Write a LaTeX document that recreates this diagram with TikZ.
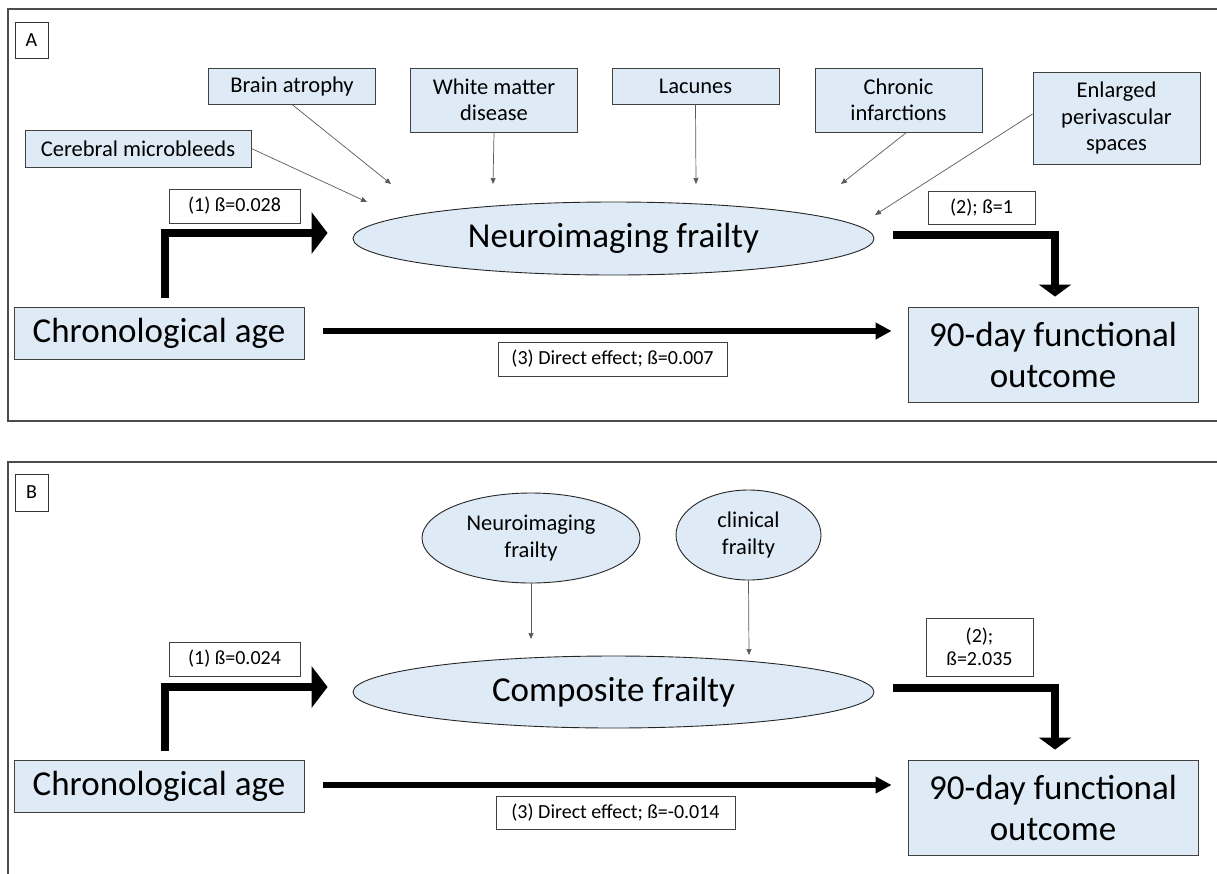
\documentclass[tikz,border=0pt]{standalone}
\usepackage{fontspec}
\setmainfont{Carlito}
\usetikzlibrary{positioning, arrows.meta, shapes.geometric}
\definecolor{boxblue}{RGB}{222,235,247}

\begin{document}
\begin{tikzpicture}[x=1pt, y=-1pt,
		panel/.style={draw=black!70, line width=1.5pt},
		tag/.style={draw=black!80, line width=0.9pt, inner sep=0pt,
			minimum width=33pt, minimum height=36pt, font=\fontsize{20}{22}\selectfont},
		factor/.style={draw=black!75, line width=0.9pt, fill=boxblue, align=center,
			inner sep=0pt, minimum width=167pt, font=\fontsize{22.5}{26.5}\selectfont},
		mainbox/.style={draw=black!75, line width=0.9pt, fill=boxblue, align=center,
			inner sep=0pt, minimum width=290pt, font=\fontsize{35}{41}\selectfont},
		latent/.style={ellipse, draw=black!85, line width=0.9pt, fill=boxblue, align=center,
			inner sep=0pt},
		coef/.style={draw=black!75, line width=0.8pt, fill=white, align=center,
			inner sep=0pt, minimum height=34pt, font=\fontsize{20}{22.7}\selectfont},
		feed/.style={draw=black!65, line width=0.7pt, -{Triangle[length=6pt, width=5pt]}},
		patha/.style={line width=7.5pt, -{Triangle[length=16pt, width=41pt]}},
		pathb/.style={line width=7.5pt, -{Triangle[length=12pt, width=32pt]}},
		pathc/.style={line width=6pt, -{Triangle[length=16pt, width=16pt]}},
		]
		\useasboundingbox (0,0) rectangle (1217,873);
		\clip (0,0) rectangle (1217,873);
		
		% Panel A
		\draw[panel] (8,9) rectangle (1300,421);
		\node[tag] (labA) at (31.5,40) {A};
		
		\node[factor, minimum width=226pt, minimum height=37pt] (cmb) at (138,148.5) {Cerebral microbleeds};
		\node[factor, minimum height=36pt] (ba) at (292,86) {Brain atrophy};
		\node[factor, minimum height=64pt] (wmd) at (494,100) {White matter\\disease};
		\node[factor, minimum height=36pt] (lac) at (695.5,86) {Lacunes};
		\node[factor, minimum height=64pt] (chi) at (898.5,100) {Chronic\\infarctions};
		\node[factor, minimum height=92pt] (epvs) at (1116.5,118) {Enlarged\\perivascular\\spaces};
		
		\node[latent, minimum width=521pt, minimum height=73pt, font=\fontsize{35}{41}\selectfont]
			(neuroA) at (613.5,238.5) {Neuroimaging frailty};
		
		\node[mainbox, minimum height=52pt] (ageA) at (159,333) {Chronological age};
		\node[mainbox, minimum height=95pt] (outA) at (1053,354.5) {90-day functional\\outcome};
		
		\coordinate (tcmb) at (367,202);
		\coordinate (tba) at (391,184);
		\coordinate (twmd) at (493,184);
		\coordinate (tlac) at (696,184);
		\coordinate (tchi) at (841,184);
		\coordinate (tepvs) at (875,215);
		
		\draw[feed] (cmb.east) -- (tcmb);
		\draw[feed] (ba.south) -- (tba);
		\draw[feed] (wmd.south) -- (twmd);
		\draw[feed] (lac.south) -- (tlac);
		\draw[feed] ([xshift=8pt]chi.south) -- (tchi);
		\draw[feed] ([yshift=4pt]epvs.west) -- (tepvs);
		
		\draw[patha] ([xshift=6pt, yshift=9pt]ageA.north) |- ([xshift=-25pt, yshift=5.5pt]neuroA.west);
		\draw[pathb] ([xshift=19pt, yshift=3.5pt]neuroA.east) -| ([xshift=2pt, yshift=10pt]outA.north);
		\draw[pathc] ([xshift=19pt, yshift=2pt]ageA.east) -- ([xshift=-16pt, yshift=2pt]ageA.east -| outA.west);
		
		\node[coef, minimum width=131pt] (lblA1) at (234.5,206) {(1) ß=0.028};
		\node[coef, minimum width=107pt, minimum height=33pt] (lblA2) at (981.5,207.5) {(2); ß=1};
		\node[coef, minimum width=229pt] (lblA3) at (612.5,359) {(3) Direct effect; ß=0.007};
		
		% Panel B
		\draw[panel] (8,462) rectangle (1300,950);
		\node[tag, minimum height=37pt] (labB) at (31.5,492.5) {B};
		
		\node[latent, minimum width=218pt, minimum height=90pt, font=\fontsize{22.5}{26.5}\selectfont]
			(neuroB) at (531,538) {Neuroimaging\\frailty};
		\node[latent, minimum width=145pt, minimum height=90pt, font=\fontsize{22.5}{26.5}\selectfont]
			(clinB) at (748.5,535) {clinical\\frailty};
		\node[latent, minimum width=521pt, minimum height=72pt, font=\fontsize{35}{41}\selectfont]
			(compB) at (613.5,692) {Composite frailty};
		
		\node[mainbox, minimum height=52pt] (ageB) at (159,786) {Chronological age};
		\node[mainbox, minimum height=95pt] (outB) at (1053,807.5) {90-day functional\\outcome};
		
		\coordinate (tneuroB) at (531,639);
		\coordinate (tclinB) at (749,655);
		\draw[feed] (neuroB.south) -- (tneuroB);
		\draw[feed] (clinB.south) -- (tclinB);
		
		\draw[patha] ([xshift=6pt, yshift=9pt]ageB.north) |- ([xshift=-25pt, yshift=5pt]compB.west);
		\draw[pathb] ([xshift=19pt, yshift=4pt]compB.east) -| ([xshift=2pt, yshift=10pt]outB.north);
		\draw[pathc] ([xshift=19pt, yshift=1pt]ageB.east) -- ([xshift=-16pt, yshift=1pt]ageB.east -| outB.west);
		
		\node[coef, minimum width=131pt] (lblB1) at (234.5,659) {(1) ß=0.024};
		\node[coef, minimum width=107pt, minimum height=58pt] (lblB2) at (979.5,647) {(2);\\ß=2.035};
		\node[coef, minimum width=239pt, minimum height=33pt] (lblB3) at (615.5,812.5) {(3) Direct effect; ß=-0.014};
		
	\end{tikzpicture}
\end{document}
